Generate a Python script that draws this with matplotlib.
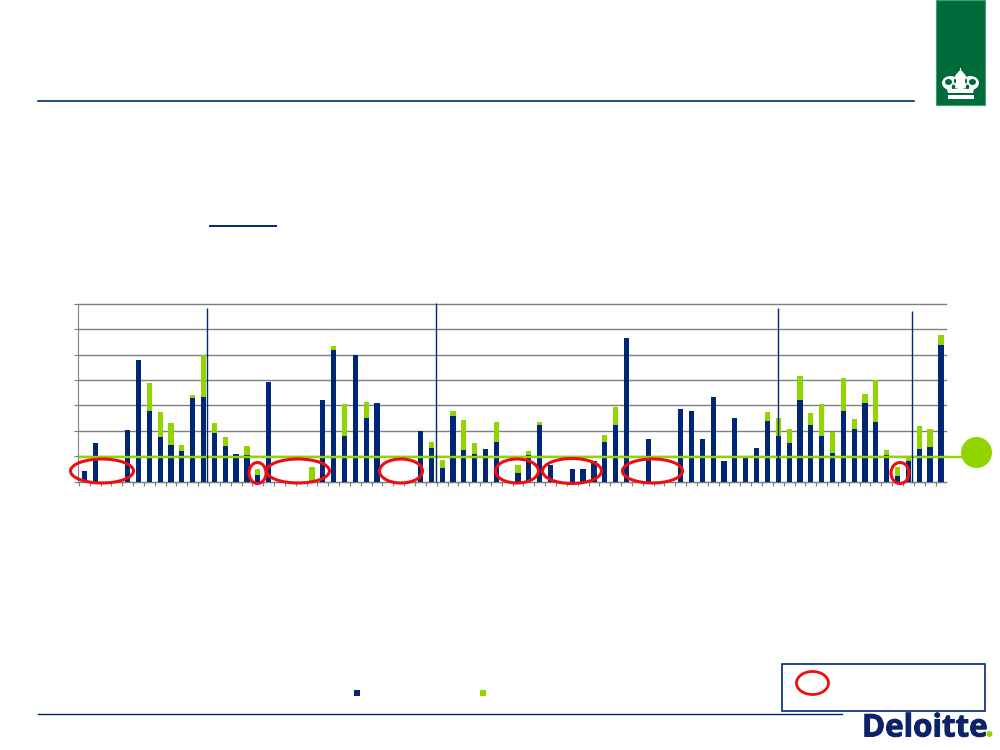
import numpy as np
from matplotlib import pyplot as plt
from matplotlib import patheffects
from matplotlib.patches import Circle, Ellipse, Polygon, Rectangle

NAVY = "#002776"
GREEN = "#92D400"
RED = "#F00D0D"
GREY = "#7F7F7F"
LOGO = "#006B3A"

navy = [
    0.40, 1.52, 0, 0, 2.02, 4.80, 2.77, 1.74, 1.43, 1.19,
    3.29, 3.33, 1.90, 1.39, 1.07, 1.06, 0.24, 3.92, 0, 0,
    0, 0, 3.21, 5.19, 1.78, 4.99, 2.50, 3.09, 0, 0,
    0, 1.99, 1.31, 0.53, 2.58, 1.23, 1.07, 1.27, 1.55, 0,
    0.33, 1.03, 2.22, 0.66, 0, 0.50, 0.50, 0.79, 1.55, 2.22,
    5.65, 0, 1.66, 0, 0, 2.84, 2.77, 1.66, 3.33, 0.82,
    2.50, 0.92, 1.32, 2.39, 1.78, 1.51, 3.21, 2.22, 1.78, 1.11,
    2.77, 2.06, 3.09, 2.34, 1.03, 0.20, 0.79, 1.28, 1.35, 5.39,
]
green = [
    0, 0, 0, 0, 0, 0, 1.11, 0.99, 0.86, 0.26,
    0.12, 1.66, 0.40, 0.37, 0, 0.33, 0.26, 0, 0, 0,
    0, 0.57, 0, 0.17, 1.27, 0, 0.62, 0, 0, 0,
    0, 0, 0.24, 0.30, 0.19, 1.21, 0.44, 0, 0.79, 0,
    0.34, 0.16, 0.13, 0, 0, 0, 0, 0, 0.29, 0.71,
    0, 0, 0, 0, 0, 0, 0, 0, 0, 0,
    0, 0, 0, 0.37, 0.72, 0.58, 0.95, 0.50, 1.27, 0.85,
    1.31, 0.40, 0.36, 1.65, 0.20, 0.37, 0.23, 0.89, 0.71, 0.40,
]
threshold = 0.97

# separators: slot position, top value
separator_x = [11.3, 32.45, 64.0, 76.3]
separator_top = [6.84, 7.04, 6.84, 6.72]

fig = plt.figure(figsize=(10, 7.5), dpi=100)

# main chart
ax = fig.add_axes([0.0782, 1 - 481.5 / 750, 0.8675, 177.5 / 750])
slots = np.arange(len(navy))
ax.bar(slots, navy, width=0.48, color=NAVY, zorder=3)
ax.bar(slots, green, width=0.48, bottom=navy, color=GREEN, zorder=3)
ax.set_xlim(-0.56, 79.44)
ax.set_ylim(0, 7)
ax.set_xticks(np.arange(-0.5, 79.5, 1))
ax.set_yticks(np.arange(0, 8))
ax.tick_params(length=3, width=0.8, color=GREY, labelbottom=False, labelleft=False)
ax.grid(axis="y", color=GREY, lw=1.0, zorder=1, clip_on=False)
ax.spines["top"].set_visible(False)
ax.spines["right"].set_visible(False)
ax.spines["left"].set_color(GREY)
ax.spines["bottom"].set_color(GREY)
ax.plot([-0.4, 81.2], [threshold, threshold], color=GREEN, lw=1.7, zorder=4, clip_on=False)
ax.vlines(separator_x, 0, separator_top, color=NAVY, lw=1, zorder=5, clip_on=False)

# everything else is placed in pixels on a full-page overlay
page = fig.add_axes([0, 0, 1, 1], facecolor="none")
page.set_xlim(0, 1000)
page.set_ylim(750, 0)
page.axis("off")

# rules
page.plot([38, 914], [101, 101], color=NAVY, lw=1.2)
page.plot([38, 842], [713.5, 713.5], color=NAVY, lw=1)
page.plot([210, 276], [226, 226], color=NAVY, lw=1.4)

# red ovals over the chart
ovals = [
    (102, 471, 63, 24), (257.5, 473, 17, 21), (298, 471, 63, 24), (401, 471, 43, 24),
    (517, 471, 43, 24), (572, 471, 59, 25), (652.5, 471, 60, 24), (900, 473, 18, 21),
]
for cx, cy, w, h in ovals:
    page.add_patch(Ellipse((cx, cy), w, h, fill=False, ec=RED, lw=2.2, zorder=6))

# big green dot on the threshold line
page.add_patch(Circle((976.5, 452.5), 15.5, color=GREEN, lw=0))

# legend squares
page.add_patch(Rectangle((354, 690), 6, 6, color=NAVY, lw=0))
page.add_patch(Rectangle((480, 690), 6, 6, color=GREEN, lw=0))

# key box
page.add_patch(Rectangle((781.5, 663.5), 203, 47, fill=False, ec=NAVY, lw=1.2))
page.add_patch(Ellipse((812.5, 683), 32, 23, fill=False, ec=RED, lw=2))

# crown logo
page.add_patch(Rectangle((936, 0), 48.5, 104.5, fc=LOGO, ec="#3FA06F", lw=0.8))
page.add_patch(Rectangle((948, 94.5), 25.5, 4.5, color="white", lw=0))
for cx, cy, w, h, col in [
    (950.5, 83, 17, 14, "white"), (970.5, 83, 17, 14, "white"), (960.5, 81, 13, 18, "white"),
    (948.5, 82, 7, 6, LOGO), (972.5, 82, 7, 6, LOGO), (953.5, 87, 3.5, 5, LOGO), (967.5, 87, 3.5, 5, LOGO),
    (955, 81, 2, 5, LOGO), (966, 81, 2, 5, LOGO),
]:
    page.add_patch(Ellipse((cx, cy), w, h, color=col, lw=0))
page.add_patch(Polygon([(947, 89), (974, 89), (973, 93), (948, 93)], fc="white", ec="none"))
page.add_patch(Circle((960.5, 74), 3.2, color="white", lw=0))
page.add_patch(Polygon([(959.7, 72), (960, 68), (961, 68), (961.3, 72)], fc="white", ec="none"))

# Deloitte wordmark
word = page.text(862, 736.5, "Deloitte", family="Open Sans", fontweight="bold", fontsize=22.5,
                 color="#0C2369", ha="left", va="baseline")
word.set_path_effects([patheffects.withStroke(linewidth=0.7, foreground="#0C2369")])
page.add_patch(Circle((989.5, 734), 3, color=GREEN, lw=0))

fig.savefig("out.png", dpi=100)
